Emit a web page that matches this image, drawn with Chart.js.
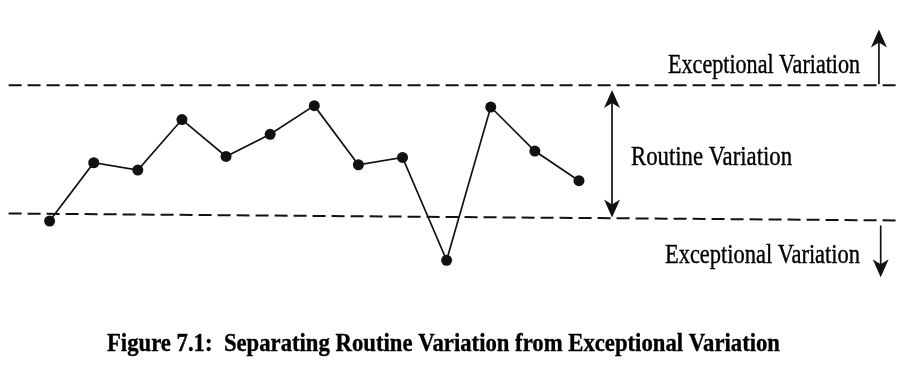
<!DOCTYPE html>
<html><head><meta charset="utf-8">
<script src="https://cdn.jsdelivr.net/npm/chart.js@4/dist/chart.umd.min.js"></script>
<style>html,body{margin:0;padding:0;background:#fff;}#wrap{width:920px;height:376px;}</style>
</head><body><div id="wrap"><canvas id="c" width="920" height="376"></canvas></div>
<script>
// ---- data ----
const samples = [1,2,3,4,5,6,7,8,9,10,11,12,13];
const values = [1.17,4.1,3.73,6.27,4.42,5.53,6.97,4.0,4.37,-0.8,6.9,4.69,3.2];
const upperLimitX = [0.07, 20.28];
const upperLimitY = [8, 8];
const lowerLimitX = [0.07, 20.28];
const lowerLimitY = [1.55, 1.2];
const upperLabel = 'Exceptional Variation';
const routineLabel = 'Routine Variation';
const lowerLabel = 'Exceptional Variation';
const caption = 'Figure 7.1:  Separating Routine Variation from Exceptional Variation';

const toPts = (xs, ys) => xs.map((x, i) => ({x: x, y: ys[i]}));

function fitText(ctx, text, x, y, width, font, align) {
  ctx.save();
  ctx.font = font;
  const w = ctx.measureText(text).width;
  const s = width / w;
  ctx.textBaseline = 'alphabetic';
  ctx.textAlign = 'left';
  const left = align === 'center' ? x - width / 2 : x;
  ctx.translate(left, y);
  ctx.scale(s, 1);
  ctx.fillStyle = '#000';
  ctx.strokeStyle = '#000';
  ctx.lineWidth = 0.4;
  ctx.fillText(text, 0, 0);
  ctx.strokeText(text, 0, 0);
  ctx.restore();
}
function arrowHead(ctx, x, y, dir) {
  // dir -1 = pointing up, 1 = pointing down
  const hw = 8, hl = 18, notch = 5;
  ctx.beginPath();
  ctx.moveTo(x, y);
  ctx.lineTo(x - hw, y - dir * hl);
  ctx.lineTo(x, y - dir * (hl - notch));
  ctx.lineTo(x + hw, y - dir * hl);
  ctx.closePath();
  ctx.fill();
}
function vArrow(ctx, x, yFrom, yTo, headTop, headBottom) {
  ctx.save();
  ctx.strokeStyle = '#111'; ctx.fillStyle = '#111'; ctx.lineWidth = 1.7;
  const top = Math.min(yFrom, yTo), bot = Math.max(yFrom, yTo);
  ctx.beginPath();
  ctx.moveTo(x, top + (headTop ? 8 : 0));
  ctx.lineTo(x, bot - (headBottom ? 8 : 0));
  ctx.stroke();
  if (headTop) arrowHead(ctx, x, top, -1);
  if (headBottom) arrowHead(ctx, x, bot, 1);
  ctx.restore();
}

const annot = {
  id: 'annot',
  afterDraw(chart) {
    const ctx = chart.ctx, xs = chart.scales.x, ys = chart.scales.y;
    const serif = '"Liberation Serif", "DejaVu Serif", serif';
    fitText(ctx, upperLabel, xs.getPixelForValue(15.02), ys.getPixelForValue(8.6), 192, '27px ' + serif);
    vArrow(ctx, xs.getPixelForValue(19.8), ys.getPixelForValue(8.05), ys.getPixelForValue(10.8), true, false);
    vArrow(ctx, xs.getPixelForValue(13.75), ys.getPixelForValue(7.75), ys.getPixelForValue(1.35), true, true);
    fitText(ctx, routineLabel, xs.getPixelForValue(14.18), ys.getPixelForValue(4.0), 161, '27px ' + serif);
    fitText(ctx, lowerLabel, xs.getPixelForValue(14.95), ys.getPixelForValue(-0.95), 195, '27px ' + serif);
    vArrow(ctx, xs.getPixelForValue(19.84), ys.getPixelForValue(0.95), ys.getPixelForValue(-1.65), false, true);
    fitText(ctx, caption, 443.5, 351, 673, 'bold 26px ' + serif, 'center');
  }
};

new Chart(document.getElementById('c'), {
  type: 'line',
  data: {
    datasets: [
      { data: toPts(samples, values), borderColor: '#111', borderWidth: 1.7,
        pointRadius: 5.5, pointBackgroundColor: '#111', pointBorderWidth: 0, tension: 0 },
      { data: toPts(upperLimitX, upperLimitY), borderColor: '#111', borderWidth: 2,
        borderDash: [13, 6], pointRadius: 0 },
      { data: toPts(lowerLimitX, lowerLimitY), borderColor: '#111', borderWidth: 2,
        borderDash: [13, 6], pointRadius: 0 }
    ]
  },
  options: {
    responsive: false, animation: false, devicePixelRatio: 1,
    layout: { padding: { left: 4.86, right: 10.2, top: 4, bottom: 52 } },
    plugins: { legend: { display: false }, tooltip: { enabled: false }, title: { display: false } },
    scales: {
      x: { type: 'linear', min: 0, max: 20.5, display: false },
      y: { min: -4, max: 12, display: false }
    }
  },
  plugins: [annot]
});
</script></body></html>
